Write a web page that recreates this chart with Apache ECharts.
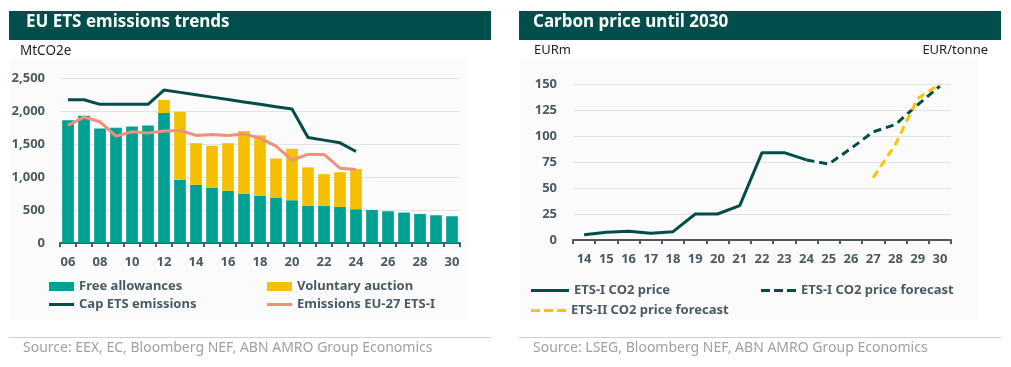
<!DOCTYPE html>
<html><head><meta charset="utf-8">
<script src="https://cdn.jsdelivr.net/npm/echarts@6/dist/echarts.min.js"></script>
<style>html,body{margin:0;padding:0;background:#fff}#c{width:1011px;height:367px}</style>
</head><body><div id="c"></div>
<script>
// Left chart data
const yearsL = ['06','07','08','09','10','11','12','13','14','15','16','17','18','19','20','21','22','23','24','25','26','27','28','29','30'];
const freeAllowances = [1858,1928,1736,1746,1767,1782,1969,957,881,835,790,744,714,689,648,562,562,547,512,501,481,461,440,420,405];
const voluntaryAuction = [null,null,null,null,null,null,197,1032,632,638,723,952,916,592,779,583,481,526,607,null,null,null,null,null,null];
const capETS = [2171,2171,2101,2101,2101,2101,2318,2282,2246,2210,2174,2138,2102,2066,2030,1600,1559,1518,1387,null,null,null,null,null,null];
const emissionsEU27 = [1782,1908,1837,1620,1685,1665,1696,1706,1630,1645,1630,1650,1590,1468,1255,1342,1342,1134,1114,null,null,null,null,null,null];
// Right chart data
const yearsR = ['14','15','16','17','18','19','20','21','22','23','24','25','26','27','28','29','30'];
const etsIPrice = [5,7.5,8.3,6.4,8,25,25,33,84,84,77,null,null,null,null,null,null];
const etsIForecast = [null,null,null,null,null,null,null,null,null,null,77,73,88,104,111,130,148];
const etsIIForecast = [null,null,null,null,null,null,null,null,null,null,null,null,null,60,92,136,150];

const FONT = 'Noto Sans';
const GRAY = '#4b5a62';
const TEAL = '#00a192';
const YELLOW = '#f3c100';
const SALMON = '#f0907c';
const LINEDARK = '#034d48';
const axisLbl = {color: GRAY, fontFamily: FONT, fontWeight: 'bold', fontSize: 13};
const legendText = {color: GRAY, fontFamily: FONT, fontWeight: 'bold', fontSize: 13};
const SOLID = 'path://M0,0H25V3H0Z';
const SOLID_LONG = 'path://M0,0H38V3H0Z';
const DASHED = 'path://M0,0H9V3H0Z M13,0H22V3H13Z M26,0H35V3H26Z';

const chart = echarts.init(document.getElementById('c'), null, {renderer: 'canvas'});

function leg(name, left, top, w, h, icon) {
  return {data: [name], left: left, top: top, itemWidth: w, itemHeight: h, itemGap: 0,
    icon: icon, textStyle: legendText, padding: 0, selectedMode: false};
}

const option = {
  animation: false,
  textStyle: {fontFamily: FONT},
  graphic: [
    {type: 'rect', shape: {x: 10, y: 58, width: 458, height: 262}, style: {fill: '#fbfbfb'}, z: -10},
    {type: 'rect', shape: {x: 520, y: 58, width: 458, height: 262}, style: {fill: '#fbfbfb'}, z: -10},
    {type: 'rect', shape: {x: 9, y: 11, width: 482, height: 29}, style: {fill: '#024e4d'}},
    {type: 'rect', shape: {x: 519, y: 11, width: 482, height: 29}, style: {fill: '#024e4d'}},
    {type: 'text', left: 26, top: 14, style: {text: 'EU ETS emissions trends', fill: '#fff', font: 'bold 17px "Noto Sans"'}},
    {type: 'text', left: 533, top: 14, style: {text: 'Carbon price until 2030', fill: '#fff', font: 'bold 17px "Noto Sans"'}},
    {type: 'text', left: 20, top: 44, style: {text: 'MtCO2e', fill: '#222', font: '13.5px "Noto Sans"'}},
    {type: 'text', left: 534, top: 44, style: {text: 'EURm', fill: '#222', font: '13px "Noto Sans"'}},
    {type: 'text', right: 23, top: 44, style: {text: 'EUR/tonne', fill: '#222', font: '13px "Noto Sans"'}},
    {type: 'line', shape: {x1: 9, y1: 337.5, x2: 491, y2: 337.5}, style: {stroke: '#cfcfcf', lineWidth: 1}},
    {type: 'line', shape: {x1: 519, y1: 337.5, x2: 1001, y2: 337.5}, style: {stroke: '#cfcfcf', lineWidth: 1}},
    {type: 'text', left: 23, top: 341, style: {text: 'Source: EEX, EC, Bloomberg NEF, ABN AMRO Group Economics', fill: '#a0a0a0', font: '14px "Noto Sans"'}},
    {type: 'text', left: 533, top: 341, style: {text: 'Source: LSEG, Bloomberg NEF, ABN AMRO Group Economics', fill: '#a0a0a0', font: '14px "Noto Sans"'}}
  ],
  grid: [
    {left: 60, right: 551, top: 78, bottom: 124, containLabel: false},
    {left: 573, right: 60, top: 84, bottom: 127, containLabel: false}
  ],
  xAxis: [
    {type: 'category', gridIndex: 0, data: yearsL, boundaryGap: true,
      axisLine: {lineStyle: {color: GRAY, width: 2}},
      axisTick: {show: true, interval: 0, length: 4, lineStyle: {color: GRAY, width: 2}},
      axisLabel: Object.assign({interval: 1, margin: 13}, axisLbl)},
    {type: 'category', gridIndex: 1, data: yearsR, boundaryGap: true,
      axisLine: {lineStyle: {color: GRAY, width: 2}},
      axisTick: {show: true, interval: 0, length: 4, lineStyle: {color: GRAY, width: 2}},
      axisLabel: Object.assign({interval: 0, margin: 13}, axisLbl)}
  ],
  yAxis: [
    {type: 'value', gridIndex: 0, min: 0, max: 2500, interval: 500,
      axisLine: {show: false}, axisTick: {show: false},
      splitLine: {lineStyle: {color: '#e3e3e3'}},
      axisLabel: Object.assign({margin: 15, formatter: v => v.toLocaleString('en-US')}, axisLbl)},
    {type: 'value', gridIndex: 1, min: 0, max: 150, interval: 25,
      axisLine: {show: false}, axisTick: {show: false},
      splitLine: {lineStyle: {color: '#e3e3e3'}},
      axisLabel: Object.assign({margin: 16}, axisLbl)}
  ],
  legend: [
    leg('Free allowances', 49, 280, 25, 9, 'rect'),
    leg('Voluntary auction', 267, 280, 25, 9, 'rect'),
    leg('Cap ETS emissions', 49, 298, 25, 3, SOLID),
    leg('Emissions EU-27 ETS-I', 267, 298, 25, 3, SOLID),
    leg('ETS-I CO2 price', 531, 284, 38, 3, SOLID_LONG),
    leg('ETS-I CO2 price forecast', 761, 284, 35, 3, DASHED),
    leg('ETS-II CO2 price forecast', 531, 304, 35, 3, DASHED)
  ],
  series: [
    {name: 'Free allowances', type: 'bar', stack: 'a', xAxisIndex: 0, yAxisIndex: 0, data: freeAllowances,
      itemStyle: {color: TEAL}, barCategoryGap: '27%'},
    {name: 'Voluntary auction', type: 'bar', stack: 'a', xAxisIndex: 0, yAxisIndex: 0, data: voluntaryAuction,
      itemStyle: {color: YELLOW}, barCategoryGap: '27%'},
    {name: 'Cap ETS emissions', type: 'line', xAxisIndex: 0, yAxisIndex: 0, data: capETS, symbol: 'none',
      lineStyle: {color: LINEDARK, width: 3}, itemStyle: {color: LINEDARK}},
    {name: 'Emissions EU-27 ETS-I', type: 'line', xAxisIndex: 0, yAxisIndex: 0, data: emissionsEU27, symbol: 'none',
      lineStyle: {color: SALMON, width: 3}, itemStyle: {color: SALMON}},
    {name: 'ETS-I CO2 price', type: 'line', xAxisIndex: 1, yAxisIndex: 1, data: etsIPrice, symbol: 'none',
      lineStyle: {color: LINEDARK, width: 3}, itemStyle: {color: LINEDARK}},
    {name: 'ETS-I CO2 price forecast', type: 'line', xAxisIndex: 1, yAxisIndex: 1, data: etsIForecast, symbol: 'none',
      lineStyle: {color: LINEDARK, width: 3, type: [8, 5]}, itemStyle: {color: LINEDARK}},
    {name: 'ETS-II CO2 price forecast', type: 'line', xAxisIndex: 1, yAxisIndex: 1, data: etsIIForecast, symbol: 'none',
      lineStyle: {color: '#fcc400', width: 3, type: [8, 5]}, itemStyle: {color: '#fcc400'}}
  ]
};
chart.setOption(option);
</script></body></html>
